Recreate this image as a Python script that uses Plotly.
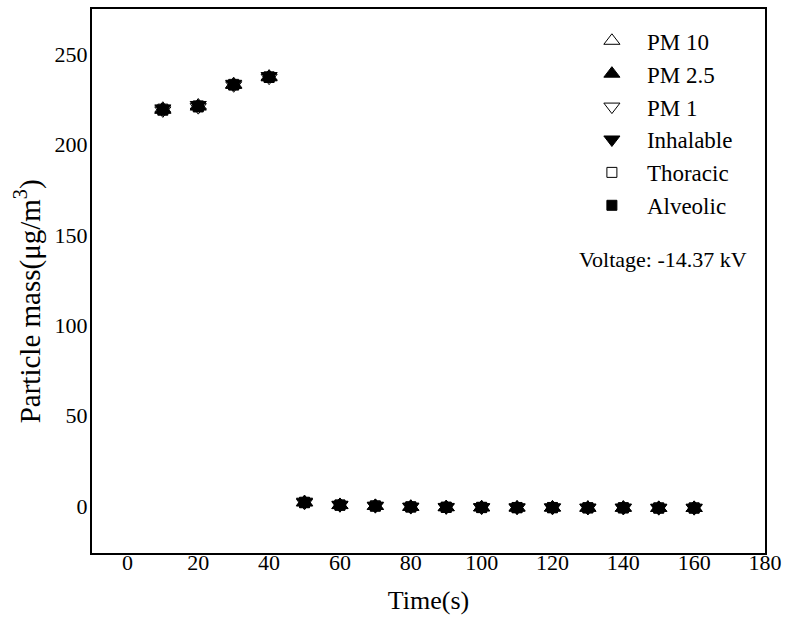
import plotly.graph_objects as go

# Sampling times (s)
time_s = [10, 20, 30, 40, 50, 60, 70, 80, 90, 100, 110, 120, 130, 140, 150, 160]

# Particle mass concentrations (ug/m3) per size fraction
pm10      = [219.8, 221.6, 233.4, 237.6, 2.2, 0.6, 0.1, -0.4, -0.6, -0.7, -0.8, -0.8, -0.9, -0.9, -1.0, -1.0]
pm25      = [219.2, 221.0, 233.0, 237.2, 1.9, 0.5, 0.0, -0.5, -0.7, -0.8, -0.9, -0.9, -1.0, -1.0, -1.1, -1.1]
pm1       = [218.9, 220.7, 232.8, 237.0, 1.8, 0.4, -0.1, -0.6, -0.8, -0.9, -1.0, -1.0, -1.1, -1.1, -1.2, -1.2]
inhalable = [220.0, 221.9, 233.6, 237.9, 2.4, 0.7, 0.2, -0.3, -0.5, -0.6, -0.7, -0.7, -0.8, -0.8, -0.9, -0.9]
thoracic  = [219.6, 221.4, 233.3, 237.5, 2.1, 0.6, 0.1, -0.4, -0.6, -0.7, -0.8, -0.8, -0.9, -0.9, -1.0, -1.0]
alveolic  = [219.0, 220.8, 232.9, 237.1, 1.8, 0.4, -0.1, -0.6, -0.8, -0.9, -1.0, -1.0, -1.1, -1.1, -1.2, -1.2]

series = [
    ("PM 10", pm10, "triangle-up-open"),
    ("PM 2.5", pm25, "triangle-up"),
    ("PM 1", pm1, "triangle-down-open"),
    ("Inhalable", inhalable, "triangle-down"),
    ("Thoracic", thoracic, "square-open"),
    ("Alveolic", alveolic, "square"),
]

FONT = "Liberation Serif, Times New Roman, serif"
W, H = 789, 621
M = dict(l=92, r=20, t=7, b=68)

fig = go.Figure()
for name, vals, sym in series:
    size = 10 if sym.startswith("square") else 14
    fig.add_trace(go.Scatter(
        x=time_s, y=vals, name=name, mode="markers",
        marker=dict(symbol=sym, size=size, color="black",
                    line=dict(color="black", width=1)),
    ))

fig.add_annotation(
    x=0.9765, y=0.540, xref="paper", yref="paper",
    text="Voltage: -14.37 kV", showarrow=False,
    xanchor="right", yanchor="middle",
    font=dict(family=FONT, size=22, color="black"),
)

# vertical axis title placed as a rotated annotation
plot_w = W - M["l"] - M["r"]
plot_h = H - M["t"] - M["b"]
fig.add_annotation(
    x=(28 - M["l"]) / plot_w, y=(H - M["b"] - 300) / plot_h,
    xref="paper", yref="paper", textangle=-90,
    text="Particle mass(μg/m<sup>3</sup>)", showarrow=False,
    xanchor="center", yanchor="middle",
    font=dict(family=FONT, size=29, color="black"),
)

axis_common = dict(
    showline=True, linecolor="black", linewidth=2, mirror=True,
    showgrid=False, zeroline=False, ticks="",
    tickfont=dict(family=FONT, size=22, color="black"),
)

fig.update_layout(
    width=W, height=H,
    margin=M,
    paper_bgcolor="white", plot_bgcolor="white",
    font=dict(family=FONT, color="black"),
    xaxis=dict(range=[-10, 180], tickmode="array",
               tickvals=list(range(0, 181, 20)),
               ticklabelstandoff=-11,
               title=dict(text="Time(s)", font=dict(family=FONT, size=26), standoff=16),
               **axis_common),
    yaxis=dict(range=[-26, 275], tickmode="array",
               tickvals=[0, 50, 100, 150, 200, 250],
               ticklabelstandoff=-2,
               **axis_common),
    legend=dict(x=0.7205, y=0.981, xanchor="left", yanchor="top",
                bgcolor="rgba(0,0,0,0)", borderwidth=0,
                font=dict(family=FONT, size=23, color="black"),
                itemwidth=60),
)

fig.write_html("out.html")
